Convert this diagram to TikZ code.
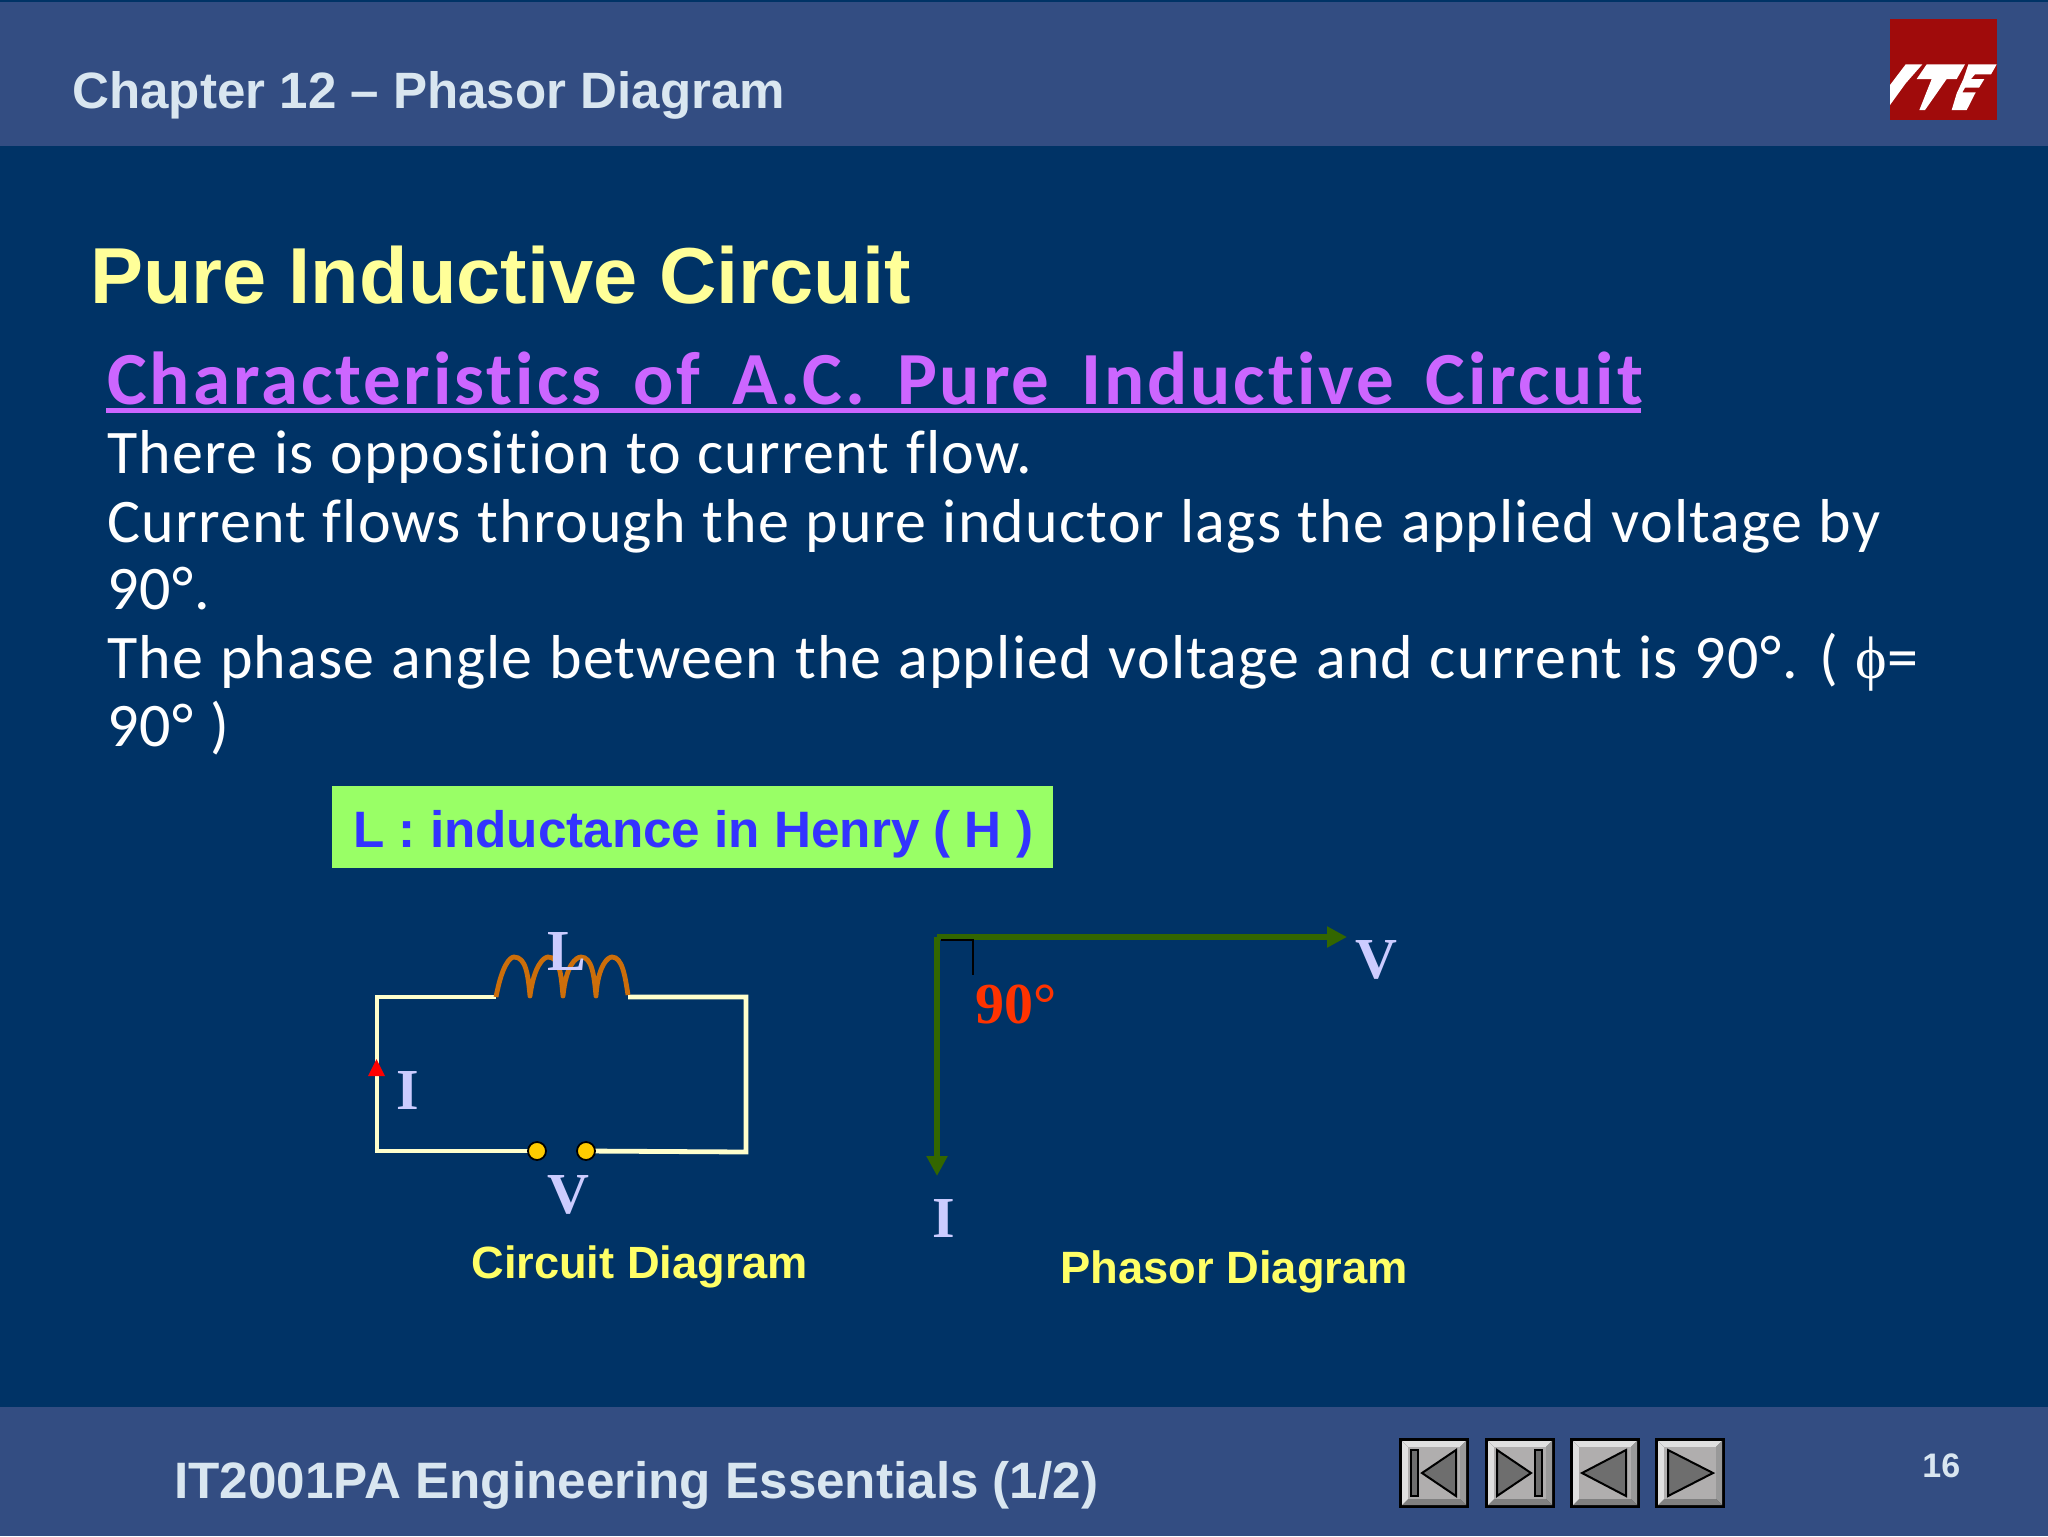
\documentclass[tikz,border=0pt]{standalone}
\usepackage{fontspec}
\setmainfont{Liberation Sans}
\newfontfamily\hand{Carlito}[Ligatures=CommonOff,LetterSpace=1.9,WordSpace=1.1]
\newfontfamily\handb{Carlito Bold}[Ligatures=CommonOff,LetterSpace=3.9,WordSpace=1.6]
\newfontfamily\serifb{Liberation Serif}[BoldFont={Liberation Serif Bold}]
\usetikzlibrary{arrows.meta}
\definecolor{bodybg}{HTML}{003366}
\definecolor{barbg}{HTML}{334D82}
\definecolor{headtxt}{HTML}{D9E6F0}
\definecolor{ttl}{HTML}{FFFF99}
\definecolor{purp}{HTML}{CC66FF}
\definecolor{lav}{HTML}{CCCCFF}
\definecolor{wire}{HTML}{FFFFCC}
\definecolor{coil}{HTML}{CC6E0A}
\definecolor{phasor}{HTML}{336600}
\definecolor{ang}{HTML}{FF3300}
\definecolor{capt}{HTML}{FFFF66}
\definecolor{boxg}{HTML}{99FF66}
\definecolor{boxb}{HTML}{3333FF}
\definecolor{dotc}{HTML}{FFCC00}
\definecolor{logo}{HTML}{A00B0B}
\definecolor{face}{HTML}{B0AEAE}
\definecolor{glyph}{HTML}{6E6E6E}
\newcommand{\fsz}[1]{\fontsize{#1pt}{#1pt}\selectfont}
\tikzset{
  txt/.style={inner sep=0pt,anchor=base west},
  handline/.style={txt,text=white,font=\hand\fsz{31}},
  sym/.style={txt,text=lav,font=\serifb\bfseries\fsz{29}},
  wireline/.style={draw=wire,line width=2.4pt,line join=miter},
  vec/.style={draw=phasor,line width=3.4pt,-{Triangle[length=10pt,width=10pt]}},
  btng/.style={fill=glyph,draw=black,line width=1pt,line join=miter},
  termdot/.style={circle,fill=dotc,draw=black,line width=0.9pt,minimum size=9pt,inner sep=0pt},
}
\newcommand{\navbtn}[1]{%
  \fill[black] (#1,1438) rectangle ++(70,70);
  \fill[black!12!white] (#1+3,1441) -- ++(64,0) -- ++(-6,6) -- ++(-52,0) -- cycle;
  \fill[black!50!white] (#1+3,1505) -- ++(64,0) -- ++(-6,-6) -- ++(-52,0) -- cycle;
  \fill[black!12!white] (#1+3,1441) -- ++(6,6) -- ++(0,52) -- ++(-6,6) -- cycle;
  \fill[black!40!white] (#1+67,1441) -- ++(-6,6) -- ++(0,52) -- ++(6,6) -- cycle;
  \fill[face] (#1+9,1447) rectangle ++(52,52);
}
\begin{document}
\begin{tikzpicture}[x=0.5pt,y=-0.5pt]
\useasboundingbox (0,0) rectangle (2048,1536);
\fill[bodybg] (0,0) rectangle (2048,1536);
\fill[barbg] (0,2) rectangle (2048,146);
\fill[barbg] (0,1407) rectangle (2048,1536);
% logo
\fill[logo] (1890,19) rectangle (1997,120);
\begin{scope}[shift={(1885,55)},x=0.1667pt,y=-0.1667pt]
\fill[white] (15,90) -- (62,28) -- (112,28) -- (62,85) -- (15,150) -- cycle;
\fill[white] (95,72) -- (125,28) -- (240,28) -- (215,72) -- (185,72) -- (120,165) -- (103,165) -- (140,72) -- cycle;
\fill[white] (250,28) -- (335,28) -- (318,58) -- (270,58) -- (258,72) -- (298,72) -- (282,98) -- (240,98) -- (232,112) -- (272,112) -- (245,165) -- (200,165) -- (215,115) -- (235,72) -- cycle;
\end{scope}
% header
\node[txt,text=headtxt,font=\bfseries\fsz{25.55}] (chap) at (72,109) {Chapter 12 – Phasor Diagram};
\node[txt,text=ttl,font=\bfseries\fsz{39.7}] (title) at (90,303) {Pure Inductive Circuit};
\node[txt,text=purp,font=\handb\fsz{37.5}] (sub) at (107,404) {Characteristics of A.C. Pure Inductive Circuit};
\fill[purp] (106,408) rectangle (1641,413);
\node[handline] (l1) at (107,473) {There is opposition to current flow.};
\node[handline] (l2) at (107,542) {Current flows through the pure inductor lags the applied voltage by};
\node[handline] (l3) at (107,609) {90°.};
\node[handline] (l4) at (107,678) {The phase angle between the applied voltage and current is 90°. ( {\serifb\fsz{30}ϕ}=};
\node[handline] (l5) at (107,746) {90° )};
% green box
\fill[boxg] (332,786) rectangle (1053,868);
\node[txt,text=boxb,font=\bfseries\fsz{25.6}] (lbl) at (353,847) {L : inductance in Henry ( H )};
% circuit
\coordinate (cl) at (377,997);
\coordinate (cr) at (746,997);
\coordinate (bl) at (377,1151);
\coordinate (br) at (746,1152);
\coordinate (ca) at (496,997);
\coordinate (cb) at (628,997);
\coordinate (ta) at (537,1151);
\coordinate (tb) at (586,1151);
\draw[wireline] (ca) -- (cl) -- (bl) -- (ta);
\draw[wireline] (cb) -- (cr) -- (br) -- (tb);
\draw[draw=coil,line width=2.4pt,line join=round]
  (ca) .. controls (502,965) and (510,957) .. (514,957) .. controls (526,957) and (528,975) .. (530,996)
  .. controls (534,965) and (544,957) .. (548,957) .. controls (560,957) and (561,975) .. (563,996)
  .. controls (566,965) and (576,957) .. (581,957) .. controls (592,957) and (594,975) .. (596,996)
  .. controls (598,965) and (608,957) .. (612,957) .. controls (622,957) and (625,975) .. (628,995);
\node[termdot] (d1) at (ta) {};
\node[termdot] (d2) at (tb) {};
\fill[red] (368,1076) -- (376.5,1059) -- (385,1076) -- cycle;
\node[sym] (lL) at (547,970) {L};
\node[sym] (lI) at (396,1109) {I};
\node[sym] (lV) at (547,1213) {V};
\node[txt,text=capt,font=\bfseries\fsz{22.6}] (cap1) at (471,1278) {Circuit Diagram};
% phasor
\coordinate (o) at (937,937);
\coordinate (vend) at (1347,937);
\coordinate (iend) at (937,1176);
\draw[vec] (o) -- (vend);
\draw[vec] (o) -- (iend);
\draw[black,line width=1pt] (941,940) -- (973,940) -- (973,975);
\node[sym] (pV) at (1355,978) {V};
\node[sym] (pI) at (932,1237) {I};
\node[txt,text=ang,font=\serifb\bfseries\fsz{29}] (a90) at (975,1023) {90°};
\node[txt,text=capt,font=\bfseries\fsz{22.65}] (cap2) at (1060,1283) {Phasor Diagram};
% footer
\node[txt,text=headtxt,font=\bfseries\fsz{25.6}] (foot) at (174,1498) {IT2001PA Engineering Essentials (1/2)};
\node[txt,text=headtxt,font=\bfseries\fsz{17}] (num) at (1922,1477) {16};
% nav buttons
\navbtn{1399}
\navbtn{1485}
\navbtn{1570}
\navbtn{1655}
\draw[btng] (1411,1450) rectangle (1418,1496);
\draw[btng] (1456,1450) -- (1422,1473) -- (1456,1496) -- cycle;
\draw[btng] (1497,1450) -- (1531,1473) -- (1497,1496) -- cycle;
\draw[btng] (1535,1450) rectangle (1542,1496);
\draw[btng] (1626,1450) -- (1582,1473) -- (1626,1496) -- cycle;
\draw[btng] (1668,1450) -- (1713,1473) -- (1668,1496) -- cycle;
\end{tikzpicture}
\end{document}
